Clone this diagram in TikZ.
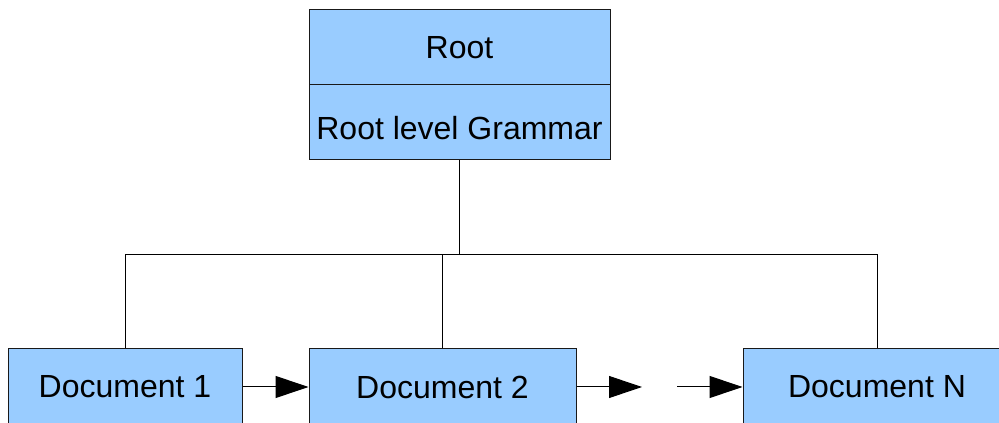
\documentclass[tikz,border=0pt]{standalone}
\usepackage{fontspec}
\setmainfont{Liberation Sans}
\usetikzlibrary{arrows.meta}
\definecolor{boxblue}{HTML}{99CCFF}
\tikzset{
  box/.style={draw=black!90, fill=boxblue, line width=0.75pt, inner sep=0pt,
    minimum height=56.25pt, font=\fontsize{24}{29}\selectfont},
  link/.style={draw=black, line width=0.75pt},
  flow/.style={link, -{Triangle[length=24.75pt,width=16.5pt]}}
}
\begin{document}
\begin{tikzpicture}[x=0.75pt, y=-0.75pt]
\useasboundingbox (0,0) rectangle (999,423);
% root with its grammar
\node[box, minimum width=225.75pt] (root) at (459.5,47.5) {Root};
\node[box, minimum width=225.75pt, text height=26pt] (grammar) at (459.5,122.5) {Root level Grammar};

% documents
\node[box, minimum width=175.5pt, minimum height=57pt] (doc1) at (125,387) {Document 1};
\node[box, minimum width=200.25pt, minimum height=57pt] (doc2) at (442.5,387) {Document 2};
\node[box, minimum width=201pt, minimum height=57pt] (docN) at (877,387) {Document N};

% tree lines
\coordinate (bus) at (0,255);
\draw[link] (grammar.south) -- (grammar.south |- bus);
\draw[link] (doc1.north) -- (doc1.north |- bus) -- (docN.north |- bus) -- (docN.north);
\draw[link] (doc2.north) -- (doc2.north |- bus);

% sequence arrows
\coordinate (gapL) at (642,387);
\coordinate (gapR) at (677,387);
\draw[flow] (doc1) -- (doc2);
\draw[flow] (doc2) -- (gapL);
\draw[flow] (gapR) -- (docN);
\end{tikzpicture}
\end{document}
